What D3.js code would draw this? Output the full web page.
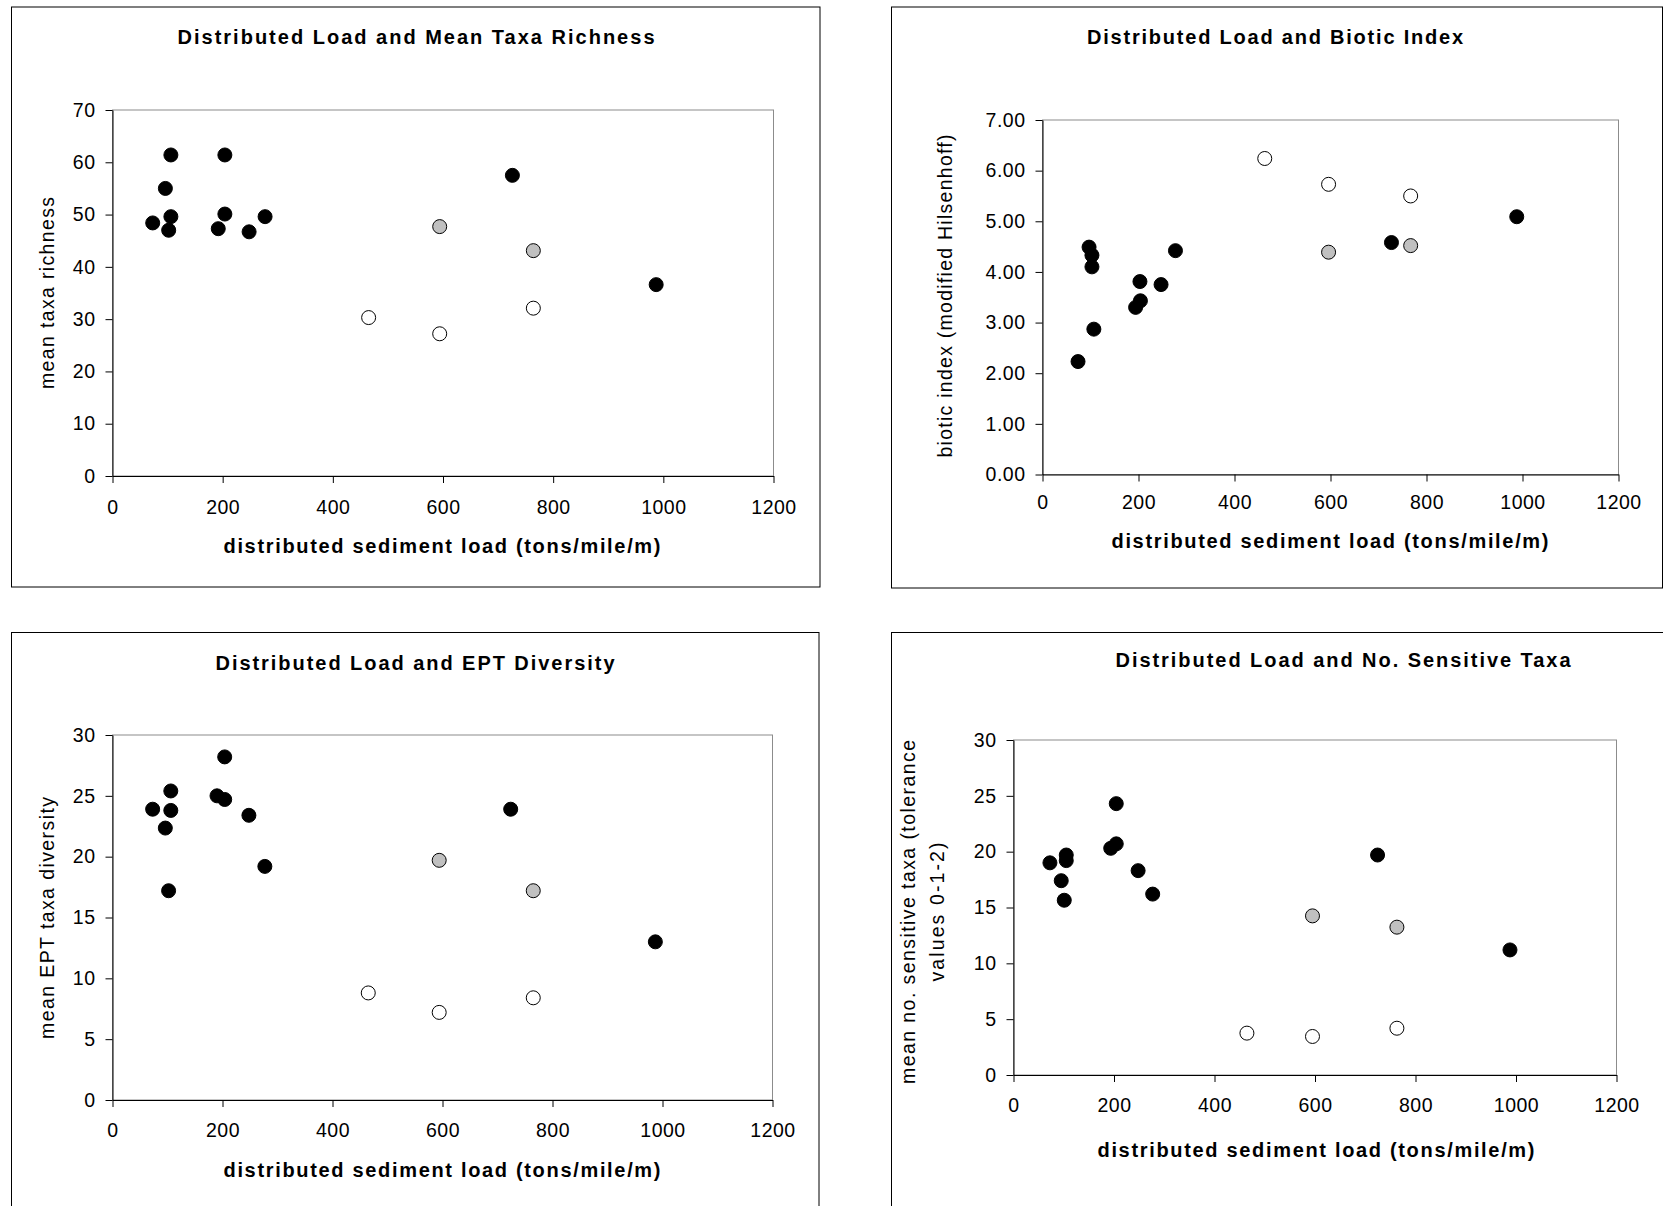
<!DOCTYPE html>
<html><head><meta charset="utf-8">
<script src="https://cdn.jsdelivr.net/npm/d3@7"></script>
<style>
body{margin:0;background:#fff}
svg{display:block}
text{font-family:"Liberation Sans",Arial,Helvetica,sans-serif;fill:#000}
</style>
</head><body>
<svg id="c" width="1663" height="1206"></svg>
<script>
// ---------- data ----------
const xTicks = [0, 200, 400, 600, 800, 1000, 1200];

const richnessTicks = [0, 10, 20, 30, 40, 50, 60, 70];
const richnessBlack = [[73,48.4],[96,55.0],[106,61.4],[106,49.6],[102,47.0],[192,47.3],[204,61.4],[204,50.1],[248,46.7],[277,49.6],[726,57.5],[987,36.6]];
const richnessGray  = [[594,47.7],[764,43.1]];
const richnessWhite = [[465,30.3],[594,27.2],[764,32.1]];

const bioticTicks = [0, 1, 2, 3, 4, 5, 6, 7];
const bioticBlack = [[74,2.23],[97,4.49],[103,4.33],[103,4.10],[107,2.87],[194,3.30],[203,3.81],[204,3.43],[247,3.75],[277,4.42],[727,4.58],[988,5.09]];
const bioticGray  = [[596,4.39],[767,4.52]];
const bioticWhite = [[463,6.24],[596,5.73],[767,5.50]];

const eptTicks = [0, 5, 10, 15, 20, 25, 30];
const eptBlack = [[73,23.9],[96,22.35],[106,25.4],[106,23.8],[102,17.2],[190,25.0],[204,28.2],[204,24.7],[248,23.4],[277,19.2],[724,23.9],[987,13.0]];
const eptGray  = [[594,19.7],[765,17.2]];
const eptWhite = [[465,8.8],[594,7.2],[765,8.4]];

const sensTicks = [0, 5, 10, 15, 20, 25, 30];
const sensBlack = [[72.5,19.0],[95,17.4],[105,19.7],[105,19.2],[101,15.65],[193.5,20.3],[204.5,24.3],[204.5,20.7],[248,18.3],[277,16.2],[724.5,19.7],[988,11.2]];
const sensGray  = [[595,14.25],[763,13.24]];
const sensWhite = [[464.5,3.75],[595,3.45],[763,4.19]];

const titles = [
  "Distributed Load and Mean Taxa Richness",
  "Distributed Load and Biotic Index",
  "Distributed Load and EPT Diversity",
  "Distributed Load and No. Sensitive Taxa"
];
const xTitle = "distributed sediment load (tons/mile/m)";
const yTitles = [
  ["mean taxa richness"],
  ["biotic index (modified Hilsenhoff)"],
  ["mean EPT taxa diversity"],
  ["mean no. sensitive taxa (tolerance", "values 0-1-2)"]
];

// ---------- layout ----------
const panels = [
  { box:[11,6.5,819.5,586.5], plot:[112.5,110,773.5,476], yMax:70, yTicks:richnessTicks, fmt:d3.format("d"),
    series:[richnessBlack,richnessGray,richnessWhite], title:titles[0], titlePos:[416,37], titleLen:477,
    xTitlePos:[442,546], yTitle:yTitles[0], yTitlePos:[[46.7,293]], yTitleLen:[192], xPad:17 },
  { box:[891,6.5,1662,587.5], plot:[1042.5,120,1618.5,474.5], yMax:7, yTicks:bioticTicks, fmt:d3.format(".2f"),
    series:[bioticBlack,bioticGray,bioticWhite], title:titles[1], titlePos:[1275,37], titleLen:376,
    xTitlePos:[1330,541], yTitle:yTitles[1], yTitlePos:[[945,296]], yTitleLen:[323], xPad:13.5 },
  { box:[11,632,818.5,1212], plot:[112.5,735,772.5,1100], yMax:30, yTicks:eptTicks, fmt:d3.format("d"),
    series:[eptBlack,eptGray,eptWhite], title:titles[2], titlePos:[415,663], titleLen:399,
    xTitlePos:[442,1170], yTitle:yTitles[2], yTitlePos:[[46.7,918]], yTitleLen:[242], xPad:16.5 },
  { box:[891,632,1670,1212], plot:[1013.5,740,1616.5,1075], yMax:30, yTicks:sensTicks, fmt:d3.format("d"),
    series:[sensBlack,sensGray,sensWhite], title:titles[3], titlePos:[1343,660], titleLen:455,
    xTitlePos:[1316,1150], yTitle:yTitles[3], yTitlePos:[[908,912],[936.5,912]], yTitleLen:[344,139], xPad:16 }
];
const fills = ["#000000", "#c0c0c0", "#ffffff"];

const svg = d3.select("#c");

panels.forEach(p => {
  const g = svg.append("g");
  // panel border
  g.append("rect")
    .attr("x", p.box[0] + 0.5).attr("y", p.box[1] + 0.5)
    .attr("width", p.box[2] - p.box[0]).attr("height", p.box[3] - p.box[1])
    .attr("fill", "#fff").attr("stroke", "#000").attr("stroke-width", 1);

  const [x0, y0, x1, y1] = p.plot;
  const x = d3.scaleLinear().domain([0, 1200]).range([x0, x1]);
  const y = d3.scaleLinear().domain([0, p.yMax]).range([y1, y0]);

  // plot area border (grey)
  g.append("rect")
    .attr("x", x0).attr("y", y0).attr("width", x1 - x0).attr("height", y1 - y0)
    .attr("fill", "none").attr("stroke", "#8c8c8c").attr("stroke-width", 1);

  // axes
  const ax = g.append("g").attr("transform", `translate(0,${y1})`)
    .call(d3.axisBottom(x).tickValues(xTicks).tickSize(7).tickSizeOuter(0).tickPadding(p.xPad).tickFormat(d3.format("d")));
  const ay = g.append("g").attr("transform", `translate(${x0},0)`)
    .call(d3.axisLeft(y).tickValues(p.yTicks).tickSize(7).tickSizeOuter(0).tickPadding(10).tickFormat(p.fmt));
  [ax, ay].forEach(a => {
    a.selectAll("path.domain").attr("stroke", "#000");
    a.selectAll(".tick line").attr("stroke", "#000");
    a.selectAll("text").attr("font-size", 19.5).attr("font-family", '"Liberation Sans",Arial,sans-serif')
      .attr("letter-spacing", 0.5).attr("fill", "#000");
  });

  // points
  p.series.forEach((s, i) => {
    g.append("g").selectAll("circle").data(s).join("circle")
      .attr("cx", d => x(d[0])).attr("cy", d => y(d[1])).attr("r", 7)
      .attr("fill", fills[i]).attr("stroke", "#000").attr("stroke-width", 1);
  });

  // title
  g.append("text").attr("x", p.titlePos[0]).attr("y", p.titlePos[1]).attr("dy", "0.36em")
    .attr("text-anchor", "middle").attr("font-size", 20).attr("font-weight", "bold")
    .attr("textLength", p.titleLen).attr("lengthAdjust", "spacing").text(p.title);

  // x axis title
  g.append("text").attr("x", p.xTitlePos[0]).attr("y", p.xTitlePos[1]).attr("dy", "0.36em")
    .attr("text-anchor", "middle").attr("font-size", 20).attr("font-weight", "bold")
    .attr("textLength", 437).attr("lengthAdjust", "spacing").text(xTitle);

  // y axis title (rotated)
  p.yTitle.forEach((t, i) => {
    const [tx, ty] = p.yTitlePos[i];
    g.append("text").attr("transform", `translate(${tx},${ty}) rotate(-90)`).attr("dy", "0.36em")
      .attr("text-anchor", "middle").attr("font-size", 19.5)
      .attr("textLength", p.yTitleLen[i]).attr("lengthAdjust", "spacing").text(t);
  });
});
</script>
</body></html>
